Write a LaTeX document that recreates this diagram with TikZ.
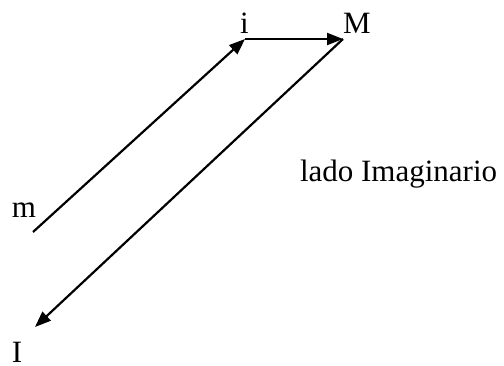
\documentclass[tikz,border=0pt]{standalone}
\usepackage{fontspec}
\setmainfont{Liberation Serif}
\usetikzlibrary{arrows.meta}
\tikzset{
  lbl/.style={anchor=base west, inner sep=0pt, outer sep=0pt, font=\fontsize{31}{37}\selectfont},
  vec/.style={line width=2.2pt, -{Triangle[length=16pt,width=12pt]}}
}
\begin{document}
\begin{tikzpicture}[x=1pt,y=-1pt]
\useasboundingbox (0,0) rectangle (504,365);
\coordinate (m0) at (33,232);
\coordinate (i0) at (245,39);
\coordinate (M0) at (343,39);
\coordinate (I0) at (35,327);
\node[lbl] (ti) at (240,33) {i};
\node[lbl] (tM) at (343,33) {M};
\node[lbl] (tm) at (12,217) {m};
\node[lbl] (tI) at (12,362) {I};
\node[lbl] (lado) at (300,181) {lado Imaginario};
\draw[vec] (m0) -- (i0);
\draw[vec] (i0) -- (M0);
\draw[vec] (M0) -- (I0);
\end{tikzpicture}
\end{document}
